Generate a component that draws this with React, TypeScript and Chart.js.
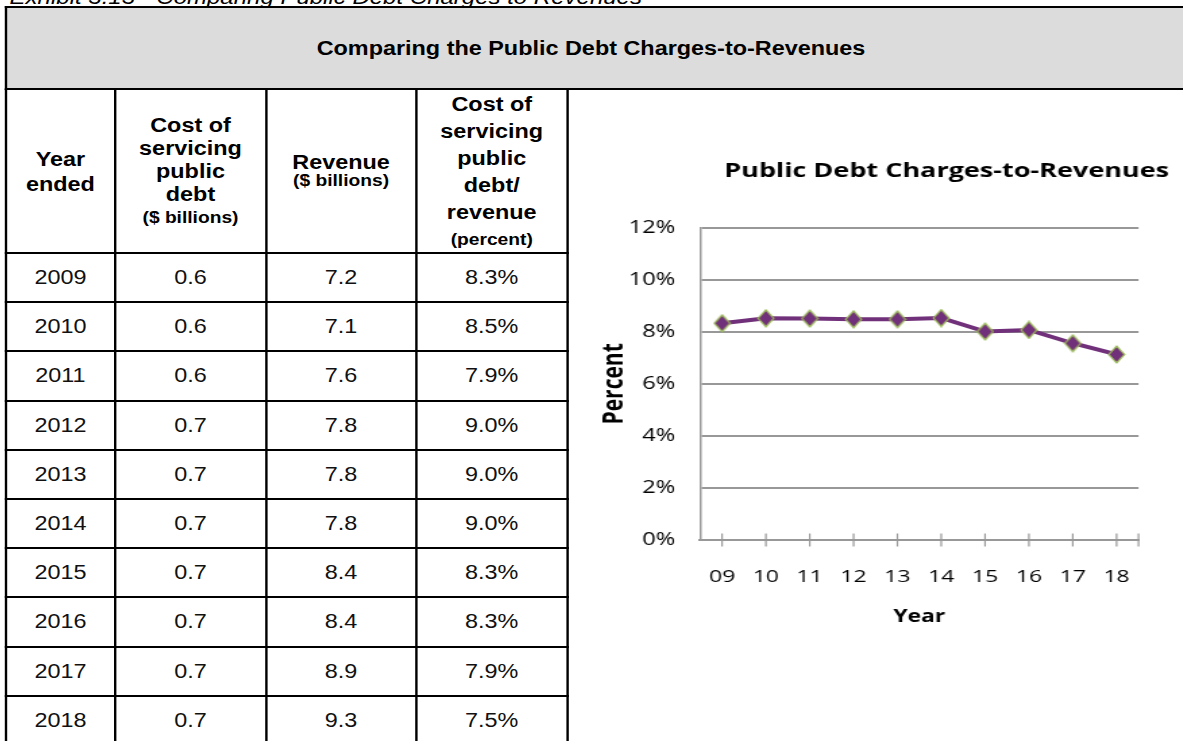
import React, { useEffect, useRef } from 'react';
import { Chart, registerables } from 'chart.js';

Chart.register(...registerables);

// ---- data ----
const years = [2009, 2010, 2011, 2012, 2013, 2014, 2015, 2016, 2017, 2018];
const costValues = [0.6, 0.6, 0.6, 0.7, 0.7, 0.7, 0.7, 0.7, 0.7, 0.7];
const revenueValues = [7.2, 7.1, 7.6, 7.8, 7.8, 7.8, 8.4, 8.4, 8.9, 9.3];
const ratioValues = [8.3, 8.5, 7.9, 9.0, 9.0, 9.0, 8.3, 8.3, 7.9, 7.5];

const chartLabels = ['09', '10', '11', '12', '13', '14', '15', '16', '17', '18'];
const chartValues = [8.33, 8.52, 8.51, 8.48, 8.48, 8.53, 8.01, 8.07, 7.56, 7.13];
const yTickMin = 0;
const yTickMax = 12;
const yTickStep = 2;

const captionText = 'Exhibit 3.13 - Comparing Public Debt Charges to Revenues';
const tableTitle = 'Comparing the Public Debt Charges-to-Revenues';
const chartTitle = 'Public Debt Charges-to-Revenues';
const yAxisTitle = 'Percent';
const xAxisTitle = 'Year';

const headerCols = [
  { lines: ['Year', 'ended'], small: [], lh: 25 },
  { lines: ['Cost of', 'servicing', 'public', 'debt', '($ billions)'], small: [4], lh: 23 },
  { lines: ['Revenue', '($ billions)'], small: [1], lh: 18.5 },
  { lines: ['Cost of', 'servicing', 'public', 'debt/', 'revenue', '(percent)'], small: [5], lh: 27 },
];

// ---- layout ----
const PAGE_STRETCH = 1.2; // table part stretched horizontally
const CHART_STRETCH = 1.35; // chart picture stretched horizontally
const colLines = [5, 95.8, 221.7, 346.7, 472.9];
const headerTop = 90;
const headerBottom = 253;
const rowPitch = 49.2;
const tableFont = 'Arial, "Liberation Sans", sans-serif';
const chartFont = '"Open Sans", sans-serif';
const lineGray = '#989898';
const purple = '#71307a';
const green = '#9bbb59';

function makeDiamond(): HTMLCanvasElement {
  const c = document.createElement('canvas');
  c.width = 14;
  c.height = 19;
  const g = c.getContext('2d')!;
  g.beginPath();
  g.moveTo(7, 1.2);
  g.lineTo(12.8, 9.5);
  g.lineTo(7, 17.8);
  g.lineTo(1.2, 9.5);
  g.closePath();
  g.fillStyle = purple;
  g.fill();
  g.lineWidth = 1.3;
  g.strokeStyle = green;
  g.stroke();
  return c;
}

const crossTicks = {
  id: 'crossTicks',
  afterDatasetsDraw(chart: any) {
    const { ctx, chartArea, scales } = chart;
    const x = scales.x;
    const xs: number[] = x.ticks.map((_: any, i: number) => x.getPixelForTick(i));
    xs.push(chartArea.right);
    ctx.save();
    ctx.strokeStyle = lineGray;
    ctx.lineWidth = 1.2;
    for (const px of xs) {
      ctx.beginPath();
      ctx.moveTo(px, chartArea.bottom - 6.5);
      ctx.lineTo(px, chartArea.bottom + 6.5);
      ctx.stroke();
    }
    ctx.restore();
  },
};

function LineChart() {
  const ref = useRef<HTMLCanvasElement>(null);
  useEffect(() => {
    if (!ref.current) return;
    const diamond = makeDiamond();
    const chart = new Chart(ref.current, {
      type: 'line',
      data: {
        labels: chartLabels,
        datasets: [
          {
            data: chartValues,
            borderColor: purple,
            borderWidth: 4,
            tension: 0,
            pointStyle: diamond,
            pointRadius: 8,
          },
        ],
      },
      options: {
        responsive: false,
        animation: false,
        events: [],
        layout: { padding: { left: 0, right: 0, top: 0, bottom: 101 } },
        plugins: {
          legend: { display: false },
          tooltip: { enabled: false },
          title: {
            display: true,
            text: chartTitle,
            color: '#000',
            font: { family: chartFont, size: 20, weight: 'bold', lineHeight: 1.2 },
            padding: { top: 68.7, bottom: 44 },
          },
        },
        scales: {
          x: {
            type: 'category',
            offset: true,
            grid: { display: false, drawTicks: false },
            border: { display: true, color: lineGray, width: 2 },
            ticks: {
              color: '#000',
              padding: 27,
              font: { family: chartFont, size: 17, lineHeight: 1.2 },
              maxRotation: 0,
              autoSkip: false,
            },
            title: {
              display: true,
              text: xAxisTitle,
              color: '#000',
              font: { family: chartFont, size: 17, weight: 'bold', lineHeight: 1.2 },
              padding: { top: 0, bottom: 12.5 },
            },
            afterFit(scale: any) {
              scale.height = 100;
            },
          },
          y: {
            type: 'linear',
            position: 'left',
            min: yTickMin,
            max: yTickMax,
            ticks: {
              stepSize: yTickStep,
              color: '#000',
              padding: 18.5,
              font: { family: chartFont, size: 17.5, lineHeight: 1.2 },
              callback: (v: any) => `${v}%`,
            },
            grid: { color: lineGray, lineWidth: 2, drawTicks: false },
            border: { display: true, color: lineGray, width: 1.5 },
            title: {
              display: true,
              text: yAxisTitle,
              color: '#000',
              font: { family: chartFont, size: 21, weight: 'bold', lineHeight: 1.2 },
              padding: { top: 20.7, bottom: 0 },
            },
            afterFit(scale: any) {
              scale.width = 96.4;
            },
          },
          yR: {
            type: 'linear',
            position: 'right',
            display: true,
            grid: { display: false, drawTicks: false },
            border: { display: false },
            ticks: { display: false },
            afterFit(scale: any) {
              scale.width = 136.9;
            },
          },
        },
      },
      plugins: [crossTicks],
    } as any);
    return () => chart.destroy();
  }, []);
  return (
    <canvas
      ref={ref}
      width={558}
      height={650}
      style={{
        position: 'absolute',
        left: 570,
        top: 91,
        transform: `scaleX(${CHART_STRETCH})`,
        transformOrigin: '0 0',
      }}
    />
  );
}

function VLine({ x, top, bottom }: { x: number; top: number; bottom: number }) {
  return (
    <div
      style={{ position: 'absolute', left: x - 1, top, width: 2, height: bottom - top, background: '#000' }}
    />
  );
}

function HLine({ y, left, right }: { y: number; left: number; right: number }) {
  return (
    <div
      style={{ position: 'absolute', left, top: y - 1, width: right - left, height: 2, background: '#000' }}
    />
  );
}

export default function App() {
  const rowCells = years.map((yr, i) => [
    String(yr),
    costValues[i].toFixed(1),
    revenueValues[i].toFixed(1),
    `${ratioValues[i].toFixed(1)}%`,
  ]);

  return (
    <div
      style={{
        position: 'absolute',
        left: 0,
        top: 0,
        width: 1183,
        height: 741,
        overflow: 'hidden',
        background: '#fff',
      }}
    >
      <div
        style={{
          position: 'absolute',
          left: 0,
          top: 0,
          width: 1000,
          height: 741,
          transform: `scaleX(${PAGE_STRETCH})`,
          transformOrigin: '0 0',
          fontFamily: tableFont,
          color: '#000',
        }}
      >
        {/* caption (cut off at top) */}
        <div
          style={{
            position: 'absolute',
            left: 8,
            top: -13.4,
            fontSize: 20,
            lineHeight: '20px',
            fontStyle: 'italic',
            whiteSpace: 'nowrap',
          }}
        >
          {captionText}
        </div>

        {/* gray title row */}
        <div
          style={{
            position: 'absolute',
            left: colLines[0] - 1,
            top: 6,
            width: 1000,
            height: 84,
            boxSizing: 'border-box',
            background: '#dcdcdc',
            borderTop: '2px solid #000',
            borderLeft: '2px solid #000',
            borderBottom: '2px solid #000',
          }}
        />
        <div
          style={{
            position: 'absolute',
            left: colLines[0],
            width: 975,
            top: 8,
            height: 80,
            display: 'flex',
            alignItems: 'center',
            justifyContent: 'center',
            fontWeight: 'bold',
            fontSize: 19.5,
            whiteSpace: 'nowrap',
          }}
        >
          {tableTitle}
        </div>

        {/* vertical lines */}
        {colLines.map((x, i) => (
          <VLine key={`v${i}`} x={x} top={headerTop - 1} bottom={741} />
        ))}
        {/* horizontal lines */}
        {years.map((_, i) => (
          <HLine key={`h${i}`} y={headerBottom + rowPitch * i} left={colLines[0] - 1} right={colLines[4] + 1} />
        ))}

        {/* header cells */}
        {headerCols.map((col, c) => (
          <div
            key={`hc${c}`}
            style={{
              position: 'absolute',
              left: colLines[c] + 1,
              width: colLines[c + 1] - colLines[c] - 2,
              top: headerTop + 1,
              height: headerBottom - headerTop - 2,
              display: 'flex',
              flexDirection: 'column',
              justifyContent: 'center',
              alignItems: 'center',
              fontWeight: 'bold',
            }}
          >
            {col.lines.map((t, j) => (
              <div
                key={j}
                style={{
                  fontSize: col.small.includes(j) ? 16 : 19.5,
                  lineHeight: `${col.lh}px`,
                  whiteSpace: 'nowrap',
                }}
              >
                {t}
              </div>
            ))}
          </div>
        ))}

        {/* data cells */}
        {rowCells.map((cells, r) =>
          cells.map((t, c) => (
            <div
              key={`d${r}-${c}`}
              style={{
                position: 'absolute',
                left: colLines[c] + 1,
                width: colLines[c + 1] - colLines[c] - 2,
                top: headerBottom + rowPitch * r + 1,
                height: rowPitch - 2,
                display: 'flex',
                justifyContent: 'center',
                alignItems: 'center',
                fontSize: 19.5,
                color: '#111',
              }}
            >
              {t}
            </div>
          ))
        )}
      </div>
      <LineChart />
    </div>
  );
}
